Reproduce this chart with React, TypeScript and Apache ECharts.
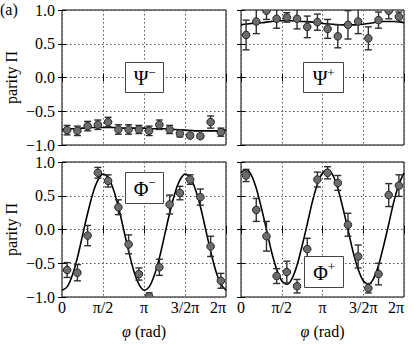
import React, { useEffect, useRef } from "react";
import * as echarts from "echarts";

const PI = Math.PI;

// measurement phases (rad)
const phases = [0.196, 0.589, 0.982, 1.374, 1.767, 2.16, 2.553, 2.945, 3.338, 3.731, 4.123, 4.516, 4.909, 5.301, 5.694, 6.087];

// Psi- panel
const psiMinusVals = [-0.78, -0.79, -0.72, -0.7, -0.66, -0.77, -0.77, -0.77, -0.79, -0.7, -0.77, -0.83, -0.86, -0.87, -0.66, -0.81];
const psiMinusErr = [0.07, 0.07, 0.07, 0.07, 0.07, 0.07, 0.07, 0.06, 0.07, 0.07, 0.06, 0.05, 0.03, 0.03, 0.09, 0.06];
// Psi+ panel
const psiPlusVals = [0.63, 0.83, 0.99, 0.87, 0.89, 0.87, 0.75, 0.82, 0.72, 0.61, 0.78, 0.83, 0.58, 0.85, 0.99, 0.9];
const psiPlusErr = [0.22, 0.18, 0.13, 0.14, 0.07, 0.15, 0.16, 0.12, 0.14, 0.17, 0.21, 0.18, 0.17, 0.12, 0.12, 0.07];
// Phi- panel
const phiMinusVals = [-0.6, -0.64, -0.09, 0.84, 0.72, 0.33, -0.22, -0.66, -0.99, -0.56, 0.37, 0.54, 0.74, 0.48, -0.25, -0.76];
const phiMinusErr = [0.11, 0.12, 0.15, 0.08, 0.09, 0.11, 0.14, 0.09, 0.05, 0.12, 0.14, 0.1, 0.07, 0.12, 0.15, 0.11];
// Phi+ panel
const phiPlusVals = [0.8, 0.29, -0.1, -0.69, -0.63, -0.84, -0.29, 0.74, 0.84, 0.69, 0.07, -0.4, -0.87, -0.66, 0.51, 0.65];
const phiPlusErr = [0.09, 0.17, 0.22, 0.11, 0.16, 0.1, 0.16, 0.11, 0.09, 0.11, 0.17, 0.17, 0.07, 0.16, 0.17, 0.16];

// fit curves
const coarseFitPhases = [0, 0.393, 0.785, 1.178, 1.571, 1.963, 2.356, 2.749, 3.142, 3.534, 3.927, 4.32, 4.712, 5.105, 5.498, 5.89, 6.283];
const psiMinusFit = [-0.77, -0.76, -0.75, -0.74, -0.74, -0.74, -0.75, -0.75, -0.75, -0.76, -0.76, -0.77, -0.78, -0.79, -0.79, -0.79, -0.78];
const psiPlusFit = [0.78, 0.8, 0.81, 0.83, 0.84, 0.84, 0.83, 0.82, 0.8, 0.79, 0.78, 0.78, 0.79, 0.81, 0.83, 0.83, 0.81];

const fineFitPhases = [0, 0.196, 0.393, 0.589, 0.785, 0.982, 1.178, 1.374, 1.571, 1.767, 1.963, 2.16, 2.356, 2.553, 2.749, 2.945, 3.142, 3.338, 3.534, 3.731, 3.927, 4.123, 4.32, 4.516, 4.712, 4.909, 5.105, 5.301, 5.498, 5.694, 5.89, 6.087, 6.283];
const phiMinusFit = [-0.9, -0.85, -0.68, -0.42, -0.09, 0.24, 0.53, 0.73, 0.82, 0.77, 0.6, 0.34, 0.01, -0.32, -0.61, -0.81, -0.9, -0.85, -0.68, -0.42, -0.09, 0.24, 0.53, 0.73, 0.82, 0.77, 0.6, 0.34, 0.01, -0.32, -0.61, -0.81, -0.9];
const phiPlusFit = [0.84, 0.89, 0.81, 0.61, 0.32, 0.0, -0.33, -0.59, -0.76, -0.81, -0.73, -0.53, -0.24, 0.08, 0.41, 0.67, 0.84, 0.89, 0.81, 0.61, 0.32, 0.0, -0.33, -0.59, -0.76, -0.81, -0.73, -0.53, -0.24, 0.08, 0.41, 0.67, 0.84];

const xTickLabels = ["0", "π/2", "π", "3/2π", "2π"];
const panelLabels = [
  { main: "Ψ", sup: "−" },
  { main: "Ψ", sup: "+" },
  { main: "Φ", sup: "−" },
  { main: "Φ", sup: "+" },
];

const FONT = "Liberation Serif";
const FS = 16;

const grids = [
  { left: 62, top: 10, width: 164, height: 135 },
  { left: 241, top: 10, width: 163, height: 135 },
  { left: 62, top: 162, width: 164, height: 135 },
  { left: 241, top: 162, width: 163, height: 135 },
];
const boxes = [
  { x: 125, y: 62, w: 38, h: 30 },
  { x: 303, y: 62, w: 40, h: 30 },
  { x: 125, y: 172, w: 38, h: 31 },
  { x: 304, y: 256, w: 39, h: 31 },
];

export default function App() {
  const ref = useRef<HTMLDivElement>(null);
  useEffect(() => {
    if (!ref.current) return;
    const chart = echarts.init(ref.current, undefined, { renderer: "svg" });

    const panels = [
      { vals: psiMinusVals, err: psiMinusErr, fx: coarseFitPhases, fy: psiMinusFit },
      { vals: psiPlusVals, err: psiPlusErr, fx: coarseFitPhases, fy: psiPlusFit },
      { vals: phiMinusVals, err: phiMinusErr, fx: fineFitPhases, fy: phiMinusFit },
      { vals: phiPlusVals, err: phiPlusErr, fx: fineFitPhases, fy: phiPlusFit },
    ];

    const xAxes: any[] = [];
    const yAxes: any[] = [];
    const tickStyle = { show: true, inside: true, length: 4, lineStyle: { color: "#000", width: 1 } };
    const gridLine = { show: true, lineStyle: { color: "#555", width: 1, type: [1.5, 2.5] } };

    grids.forEach((g, i) => {
      const bottom = i >= 2;
      const left = i % 2 === 0;
      xAxes.push({
        type: "value",
        gridIndex: i,
        position: "bottom",
        min: 0,
        max: 2 * PI,
        interval: PI / 2,
        axisLine: { show: false },
        axisTick: tickStyle,
        splitLine: gridLine,
        axisLabel: {
          show: bottom,
          margin: 2,
          color: "#000",
          fontFamily: FONT,
          fontSize: FS,
          alignMaxLabel: "right",
          formatter: (v: number) => xTickLabels[Math.round(v / (PI / 2))] ?? "",
        },
      });
      xAxes.push({
        type: "value",
        gridIndex: i,
        position: "top",
        min: 0,
        max: 2 * PI,
        interval: PI / 2,
        axisLine: { show: false },
        axisTick: tickStyle,
        splitLine: { show: false },
        axisLabel: { show: false },
      });
      yAxes.push({
        type: "value",
        gridIndex: i,
        position: "left",
        min: -1,
        max: 1,
        interval: 0.5,
        axisLine: { show: false },
        axisTick: tickStyle,
        splitLine: gridLine,
        axisLabel: {
          show: left,
          margin: 7,
          color: "#000",
          fontFamily: FONT,
          fontSize: FS,
          formatter: (v: number) => (v < -1e-9 ? "−" : "") + Math.abs(v).toFixed(1),
        },
      });
      yAxes.push({
        type: "value",
        gridIndex: i,
        position: "right",
        min: -1,
        max: 1,
        interval: 0.5,
        axisLine: { show: false },
        axisTick: tickStyle,
        splitLine: { show: false },
        axisLabel: { show: false },
      });
    });

    const series: any[] = [];
    panels.forEach((p, i) => {
      series.push({
        type: "line",
        xAxisIndex: i * 2,
        yAxisIndex: i * 2,
        data: p.fx.map((x, k) => [x, p.fy[k]]),
        showSymbol: false,
        smooth: 0.3,
        clip: true,
        lineStyle: { color: "#000", width: 1.6 },
        z: 2,
        silent: true,
      });
      series.push({
        type: "custom",
        xAxisIndex: i * 2,
        yAxisIndex: i * 2,
        clip: true,
        z: 3,
        encode: { x: 0, y: 1 },
        data: phases.map((x, k) => [x, p.vals[k], p.err[k]]),
        renderItem: (params: any, api: any) => {
          const x = api.value(0);
          const y = api.value(1);
          const e = api.value(2);
          const c = api.coord([x, y]);
          const t = api.coord([x, y + e]);
          const b = api.coord([x, y - e]);
          const cw = 3.5;
          const st = { stroke: "#2e2e2e", lineWidth: 1.4 };
          return {
            type: "group",
            children: [
              { type: "line", shape: { x1: c[0], y1: t[1], x2: c[0], y2: b[1] }, style: st },
              { type: "line", shape: { x1: c[0] - cw, y1: t[1], x2: c[0] + cw, y2: t[1] }, style: st },
              { type: "line", shape: { x1: c[0] - cw, y1: b[1], x2: c[0] + cw, y2: b[1] }, style: st },
              {
                type: "circle",
                shape: { cx: c[0], cy: c[1], r: 3.8 },
                style: { fill: "#6c6c6c", stroke: "#262626", lineWidth: 1 },
              },
            ],
          };
        },
      });
    });

    const graphic: any[] = [];
    boxes.forEach((bx, i) => {
      const cx = bx.x + bx.w / 2;
      const cy = bx.y + bx.h / 2;
      graphic.push({
        type: "rect",
        shape: { x: bx.x + 0.5, y: bx.y + 0.5, width: bx.w, height: bx.h },
        style: { fill: "#fff", stroke: "#444", lineWidth: 1 },
        z: 10,
      });
      graphic.push({
        type: "text",
        x: cx - 3,
        y: cy + 1,
        style: {
          text: panelLabels[i].main,
          fontFamily: FONT,
          fontSize: 20,
          fill: "#000",
          align: "center",
          verticalAlign: "middle",
        },
        z: 11,
      });
      graphic.push({
        type: "text",
        x: cx + 8,
        y: cy - 5,
        style: {
          text: panelLabels[i].sup,
          fontFamily: FONT,
          fontSize: 13,
          fill: "#000",
          align: "center",
          verticalAlign: "middle",
        },
        z: 11,
      });
    });
    // y-axis titles
    [77.5, 229.5].forEach((cy) => {
      graphic.push({
        type: "text",
        x: 11,
        y: cy,
        rotation: PI / 2,
        style: {
          text: "parity Π",
          fontFamily: FONT,
          fontSize: FS,
          fill: "#000",
          align: "center",
          verticalAlign: "middle",
        },
      });
    });
    // x-axis titles
    [144, 322.5].forEach((cx) => {
      graphic.push({
        type: "text",
        x: cx,
        y: 331,
        style: {
          text: "{i|φ} (rad)",
          rich: { i: { fontStyle: "italic", fontFamily: FONT, fontSize: FS } },
          fontFamily: FONT,
          fontSize: FS,
          fill: "#000",
          align: "center",
          verticalAlign: "middle",
        },
      });
    });
    graphic.push({
      type: "text",
      x: 0,
      y: 9,
      style: {
        text: "(a)",
        fontFamily: FONT,
        fontSize: FS,
        fill: "#000",
        align: "left",
        verticalAlign: "middle",
      },
    });

    chart.setOption({
      animation: false,
      backgroundColor: "#fff",
      textStyle: { fontFamily: FONT },
      grid: grids.map((g) => ({ ...g, show: true, borderColor: "#000", borderWidth: 1, backgroundColor: "transparent" })),
      xAxis: xAxes,
      yAxis: yAxes,
      series,
      graphic,
    });
    return () => chart.dispose();
  }, []);
  return (
    <div
      ref={ref}
      style={{ position: "fixed", left: 0, top: 0, width: 416, height: 345 }}
    />
  );
}
